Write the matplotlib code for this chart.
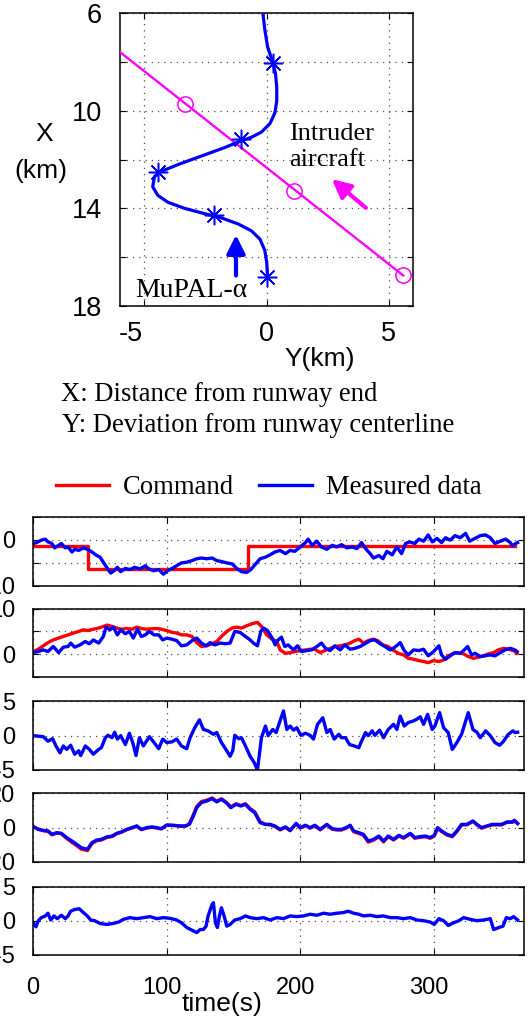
import numpy as np
import matplotlib
matplotlib.use("Agg")
import matplotlib.pyplot as plt
import matplotlib.transforms as mtrans
from matplotlib.lines import Line2D
from matplotlib.ticker import FixedLocator, NullFormatter

plt.rcParams["axes.unicode_minus"] = False

SANS = "Liberation Sans"
SERIF = "Liberation Serif"
W, H = 530, 1019

# ---- top plot: ground track (Y = lateral km, X = distance km) ----
own_y = [-0.14, -0.07, 0.04, 0.18, 0.27, 0.37, 0.42, 0.42, 0.34, 0.14, -0.21, -0.62,
         -1.03, -1.71, -2.67, -3.63, -4.32, -4.59, -4.66, -4.45, -4.04, -3.36, -2.53,
         -1.85, -1.16, -0.62, -0.27, -0.07, 0.01, 0.04]
own_x = [6.08, 6.67, 7.37, 7.79, 8.07, 8.49, 9.05, 9.61, 10.1, 10.53, 10.88, 11.09,
         11.23, 11.51, 11.86, 12.21, 12.49, 12.70, 13.12, 13.47, 13.75, 14.0, 14.22,
         14.39, 14.64, 14.92, 15.26, 15.72, 16.21, 16.8]
star_y = [0.27, -1.03, -4.45, -2.15, 0.04]
star_x = [8.03, 11.16, 12.5, 14.28, 16.8]
intr_y = [-6.0, 5.6]
intr_x = [7.6, 16.75]
circ_y = [-3.35, 1.14, 5.6]
circ_x = [9.72, 13.3, 16.75]
arrow_intr = [(4.07, 13.98), (2.68, 12.81)]   # (tail), (head)
arrow_own = [(-1.25, 16.75), (-1.25, 15.09)]

# ---- panel 1 ----
p1_cmd_t = [0, 41.3, 41.3, 160.8, 160.8, 361]
p1_cmd = [-1.25, -1.25, -6.25, -6.25, -1.25, -1.25]
p1_t = [0, 2.5, 6, 9, 11, 14, 16, 19, 21, 24, 26, 29, 31, 34, 37.5, 40.5, 44, 47.5, 50,
        52.5, 55.5, 58, 60.5, 63, 65.5, 69, 72.5, 76, 80, 84, 86, 90, 94, 97.5, 100.5,
        104, 107.5, 111, 115, 119, 122.5, 126, 130, 134, 137.5, 141, 145, 149, 152.5,
        156, 160, 163, 166, 170, 174, 177.5, 181, 185, 189, 192.5, 196, 200, 204, 206,
        209, 212.5, 216, 220, 224, 227.5, 231, 235, 239, 242.5, 246, 249, 252.5, 255,
        259, 262, 265, 269, 272.5, 276, 279, 282, 286, 289, 292.5, 296, 299, 302.5, 306,
        309, 312.5, 316, 320, 324, 327, 331, 335, 339, 342.5, 346, 350, 354, 357.5, 359,
        361.5, 363]
p1_meas = [-0.8, -0.6, -0.08, 0.15, -0.45, -0.8, -1.75, -1.2, -0.8, -1.75,
           -1.55, -2.65, -2.05, -2.3, -1.75, -2.05, -2.65, -3.4, -3.75, -4.85,
           -6.2, -7.2, -6.7, -5.95, -6.9, -6.2, -6.45, -5.95, -6.3, -5.6,
           -6.2, -6.7, -6.45, -7.45, -6.7, -6.2, -5.6, -5.0, -4.85, -4.5,
           -4.1, -3.95, -4.1, -3.95, -4.5, -4.7, -5.0, -5.2, -6.2, -6.9,
           -7.05, -6.45, -5.45, -4.1, -3.75, -3.25, -2.65, -2.3, -3.0, -2.3,
           -2.5, -1.55, -0.6, 0.15, -1.2, -0.3, -1.55, -2.05, -1.2, -1.55,
           -1.05, -1.75, -1.55, -1.9, -0.6, -1.9, -3.0, -3.95, -3.4, -4.1,
           -2.5, -3.25, -1.55, -3.0, -0.8, -0.45, -0.8, 0.15, -0.3, 1.05,
           -0.45, 0.3, -0.6, 0.45, -0.08, 0.9, 0.45, 1.4, -0.3, 0.3,
           0.9, 1.05, 0.45, -0.8, -0.3, 0.15, -0.6, -1.3, -0.8, -0.6]

# ---- panel 2 ----
p2_cmd_t = [0, 3.75, 7.5, 11, 15, 19, 22.5, 26, 30, 34, 37.5, 41, 45, 49, 52.5, 55.5, 59,
            62.5, 66, 70, 74, 77.5, 81, 85, 89, 92.5, 96, 100, 104, 107.5, 111, 115, 119,
            122.5, 126, 130, 134, 137.5, 141, 145, 149, 152.5, 156, 160, 164, 168, 171,
            175, 179, 182.5, 185, 189, 192.5, 196, 200, 204, 207.5, 211, 215, 218.5,
            222.5, 226, 230, 233.5, 237.5, 241, 244, 247.5, 251, 254.5, 258, 262, 266,
            269.5, 273.5, 277.5, 281, 285, 289, 292.5, 296, 300, 304, 307.5, 311, 315,
            318.5, 322.5, 326, 330, 333.5, 337.5, 341, 345, 348.5, 352.5, 356, 360, 362.5]
p2_cmd = [0.6, 1.1, 1.85, 2.55, 3.15, 3.55, 3.9, 4.25, 4.65, 5.0,
          5.35, 5.2, 5.5, 5.75, 6.1, 6.4, 6.1, 5.75, 5.5, 5.65,
          5.5, 5.95, 5.65, 5.5, 5.6, 5.65, 5.5, 5.2, 4.8, 4.65,
          4.25, 4.25, 3.9, 2.55, 1.7, 1.85, 2.3, 2.8, 3.9, 5.0,
          5.75, 5.95, 5.75, 6.25, 6.7, 7.0, 6.1, 4.25, 3.3, 2.8,
          0.95, 0.2, 0.35, 0.6, 0.8, 0.95, 1.1, 1.1, 0.35, 0.8,
          1.3, 1.7, 1.85, 2.05, 2.45, 3.0, 3.3, 2.45, 3.0, 3.3,
          3.0, 2.05, 1.7, 0.95, 0.2, -0.15, -0.9, -1.1, -1.4, -1.6,
          -1.85, -1.4, -1.6, -1.25, -0.35, 0.2, 0.35, 0.08, -0.5, -0.9,
          -0.65, -0.35, 0.08, 0.35, 0.95, 1.3, 1.1, 0.8, 0.2]
p2_t = [0, 3.75, 7.5, 11, 15, 19, 22.5, 26, 28, 31, 35, 39, 42, 45, 49, 52.5, 54.5, 57.5,
        60, 63, 65.5, 69, 72, 75, 78, 81, 84, 87, 90.5, 94, 97, 100, 104, 107.5, 111, 115,
        119, 122.5, 126, 129.5, 132.5, 136, 140, 144, 147.5, 151, 155, 159, 162.5, 165,
        168, 170.5, 172.5, 175.5, 179, 181.3, 183, 186, 188.5, 191, 195, 198, 201, 205,
        208.5, 212.5, 216, 219, 222.5, 226, 230, 233.5, 237.5, 241, 245, 248.5, 252.5,
        256, 260, 263.5, 267.5, 271, 275, 278, 281, 285, 289, 292.5, 296, 300, 304, 306,
        309, 312.5, 316, 320, 322.5, 325.5, 328.5, 331, 335, 338.5, 342.5, 346, 350,
        353.5, 357.5, 361, 362.5]
p2_meas = [0.35, 0.6, 0.95, 0.6, 1.7, 0.35, 1.55, 1.7, 2.45, 1.55,
           2.05, 2.8, 2.3, 3.15, 2.45, 3.9, 5.95, 5.35, 5.95, 4.25,
           5.35, 4.5, 5.0, 3.55, 5.5, 3.9, 4.25, 5.0, 4.25, 4.25,
           3.15, 3.55, 3.3, 3.0, 1.85, 2.05, 3.0, 3.55, 2.45, 1.85,
           2.55, 2.05, 2.45, 2.3, 2.45, 5.0, 4.8, 3.9, 3.15, 2.45,
           1.85, 5.0, 5.75, 5.2, 3.55, 2.05, 3.0, 3.75, 1.7, 2.05,
           0.95, 1.85, 0.6, 0.8, 0.95, 1.7, 2.45, 1.3, 0.8, 1.85,
           0.95, 2.05, 1.1, 1.3, 1.7, 2.3, 3.0, 3.15, 2.3, 1.7,
           0.95, 1.55, 2.55, 0.8, -0.15, 0.95, 0.8, 1.1, -0.35, 0.6,
           1.85, -0.15, -1.1, -0.35, 0.35, 0.2, 0.8, 1.7, -0.15, 0.2,
           -0.5, -0.35, -0.15, -0.35, 0.35, 0.95, 1.3, 0.95, 0.6]

# ---- panel 3 ----
p3_t = [0, 7.5, 11, 14.5, 17, 20, 22.5, 25, 28, 31, 34, 35.5, 39, 42, 45, 49, 51, 54, 56,
        59, 61, 63, 65.5, 69, 72, 74.5, 77, 79.5, 82.5, 87, 90.5, 94, 97, 100, 104, 107.5,
        111, 115, 117.5, 121, 124.5, 127.5, 131, 135, 137.5, 141, 145, 147.5, 149.5, 151,
        154, 156, 159, 162.5, 165.5, 168, 171, 174, 176, 179.5, 182, 184.5, 187.5, 190,
        192.5, 195, 197.5, 200.5, 204, 207.5, 210, 213, 217, 220, 222.5, 225.5, 229, 231,
        234, 237, 240.5, 244, 246, 249, 251, 254, 256, 259.5, 262.5, 266, 270, 272.5, 275,
        278, 281, 285, 287.5, 290, 292.5, 295.5, 299, 301, 304.5, 307.5, 311, 314, 317.5,
        321, 326, 329.5, 332.5, 335, 339, 342.5, 346, 349.5, 352.5, 356, 359.5, 361, 363]
p3_meas = [0.0, -0.15, -0.8, -0.45, -1.5, -2.5, -1.5, -2.0, -1.4, -2.7, -2.2, -2.9, -1.5,
           -2.0, -2.7, -2.0, -1.75, -0.3, 0.05, -0.3, 0.5, -0.5, 0.0, -1.3, 0.35, -1.0,
           -2.9, -0.3, -1.5, -0.15, -1.0, -1.9, -0.5, -1.0, -0.9, -0.5, -1.5, -1.9, -0.3,
           1.15, 2.3, 0.9, 0.7, 0.2, 0.45, -1.0, -2.2, -3.0, -2.2, 0.05, -0.45, -0.3, -1.5,
           -3.0, -3.9, -5.0, -0.3, 1.4, 0.0, 0.9, 0.45, 1.9, 3.6, 0.9, 1.4, 0.8, 1.15,
           0.05, 0.35, 0.05, -0.5, 1.65, 2.6, 0.45, 0.9, -0.5, 0.2, -0.3, -0.3, -1.3, -1.5,
           -1.75, -0.8, 0.45, 0.0, 0.7, 0.05, 0.8, -0.3, 0.9, 1.65, 0.9, 2.85, 1.4, 1.9,
           2.15, 2.4, 2.75, 1.65, 3.1, 0.9, 1.4, 3.35, 1.15, 0.45, -2.0, -1.0, 0.2, 3.35,
           0.9, 0.5, -0.3, 0.7, 0.0, -1.0, -1.4, -0.8, 0.2, 0.7, 0.45, 0.5]

# ---- panel 4 ----
p4_t = [0, 3.75, 7.5, 11, 14, 17.5, 21, 25, 29, 32.5, 36, 40.5, 44, 47.5, 51, 55, 59,
        62.5, 66, 70, 74, 77.5, 81, 85, 89, 92.5, 96, 100, 105, 110, 114, 117, 120, 122.5,
        126, 130, 134, 137.5, 141, 145, 148, 152, 155.5, 159, 162.5, 166, 170, 174, 177.5,
        181, 185, 189, 192.5, 197, 200, 204, 207.5, 211, 215, 220, 224, 227.5, 231, 234.5,
        237.5, 240, 244, 247.5, 251, 255, 259, 262.5, 266, 270, 274, 277.5, 282.5, 286,
        290, 294, 297.5, 300.5, 303, 306, 310, 314, 317.5, 321, 325, 329.5, 332.5, 336,
        340, 344, 347.5, 351, 355, 359, 360.5, 363]
p4_meas = [0.6, -1.0, -1.6, -1.9, -3.9, -2.9, -3.3, -5.8, -7.8, -9.7, -11.7, -12.6, -8.7,
           -7.2, -6.8, -5.4, -4.9, -3.3, -2.5, -1.0, 0.0, 1.0, -1.0, 0.0, 0.4, 0.0, -0.6,
           1.55, 1.4, 1.0, 1.0, 1.9, 6.8, 11.65, 14.6, 15.5, 16.9, 15.0, 16.5, 14.2, 11.65,
           13.6, 12.6, 13.6, 10.7, 8.7, 2.9, 1.9, 1.9, 1.0, -1.0, 0.4, -1.55, 2.5, 0.0,
           1.4, 0.0, 1.4, -1.0, 1.9, -0.6, -1.0, -1.0, 0.0, 1.4, -1.9, -2.9, -3.9, -7.8,
           -6.8, -4.9, -7.8, -4.9, -6.8, -4.5, -5.8, -3.3, -5.8, -5.2, -4.9, -5.8, -4.5,
           0.0, -1.9, -3.9, -4.9, -1.9, 1.9, 1.9, 3.9, 1.9, 0.0, 1.0, 1.9, 1.9, 1.9, 3.3,
           3.3, 4.3, 2.5]
p4_cmd = [0.6, -0.8, -1.8, -2.2, -4.2, -3.2, -3.5, -6.3, -8.6, -10.5, -12.5, -13.4, -9.3,
          -7.6, -7.2, -5.8, -5.2, -3.6, -2.7, -1.2, -0.2, 0.8, -1.2, -0.2, 0.2, -0.2, -0.8,
          1.4, 1.2, 0.8, 0.8, 2.4, 7.6, 12.4, 15.2, 16.0, 17.3, 15.4, 16.8, 14.6, 12.1,
          13.9, 12.9, 13.9, 11.1, 9.2, 3.4, 1.9, 1.6, 0.7, -1.3, 0.2, -1.8, 2.2, -0.3, 1.1,
          -0.3, 1.1, -1.3, 1.6, -0.9, -1.4, -1.4, -0.3, 1.1, -2.3, -3.4, -4.5, -8.4, -7.3,
          -5.3, -8.3, -5.3, -7.2, -4.9, -6.2, -3.7, -6.2, -5.6, -5.3, -6.2, -4.9, -0.5,
          -2.3, -4.3, -5.3, -2.3, 1.6, 1.6, 3.6, 1.6, -0.3, 0.8, 1.6, 1.6, 1.6, 3.1, 3.1,
          4.0, 2.3]

# ---- panel 5 ----
p5_t = [0, 2, 3.75, 6, 9, 11, 13, 15.5, 18, 21, 24, 26, 28, 31, 34.5, 37.5, 40.5, 43, 46,
        50, 55, 60, 64, 67.5, 72.5, 77.5, 82.5, 87.5, 92.5, 97.5, 102.5, 107.5, 111, 115,
        119, 122.5, 125, 127.5, 129.5, 131, 134, 135, 136.5, 138, 139.5, 141, 143, 145,
        147.5, 151, 155, 159, 162.5, 167.5, 172.5, 177.5, 182.5, 187.5, 192.5, 197.5,
        202.5, 207.5, 212.5, 217.5, 222.5, 227.5, 232.5, 236, 240, 244, 247.5, 252.5,
        257.5, 262.5, 267.5, 272.5, 277.5, 282.5, 287.5, 292.5, 297.5, 300.5, 304, 307.5,
        311, 315, 319, 322.5, 327.5, 332.5, 337.5, 342.5, 345, 349, 352, 354.5, 357.5,
        360, 363]
p5_meas = [-0.3, -0.9, 0.0, 0.45, 0.7, 1.1, 0.1, 0.7, 0.3, 0.8, 0.3, 0.7, 1.4, 1.65, 1.75,
           1.2, 0.7, 0.1, 0.0, -0.4, -0.55, -0.4, -0.2, 0.2, 0.45, 0.3, 0.45, 0.6, 0.3,
           0.45, 0.35, 0.1, -0.3, -1.0, -1.4, -1.75, -1.3, -1.3, -0.8, 0.7, 2.4, 2.65,
           -0.3, -1.0, 0.7, 1.9, 0.7, -0.8, -0.55, 0.1, 0.3, 0.7, 0.45, 0.3, 0.45, 0.1,
           0.45, 0.3, 0.7, 0.6, 0.7, 0.95, 0.8, 1.1, 0.95, 1.1, 1.2, 1.4, 1.1, 0.95, 0.7,
           0.8, 0.6, 0.7, 0.45, 0.45, 0.3, 0.45, 0.1, 0.0, -0.2, -0.55, 0.3, 0.0, -0.7,
           -0.3, 0.0, 0.45, 0.2, 0.0, 0.1, 0.3, -1.3, -1.0, -0.8, 0.45, 0.3, 0.6, 0.1]

# y-axis setup per panel: limits, labelled ticks, extra grid ticks
panel_ylim = [(-10, 5), (-5, 10), (-5, 5), (-20, 20), (-5, 5)]
panel_major = [[-10, 0], [0, 10], [-5, 0, 5], [-20, 0, 20], [-5, 0, 5]]
panel_minor = [[-5, 5], [-5, 5], [], [], []]
time_ticks = [0, 100, 200, 300]

RED, BLUE, MAG = "#ff0000", "#0000ff", "#ff00ff"
GRID = dict(color="0.3", linestyle=(0, (1, 4)), linewidth=0.9)


def fig_rect(x0, y0, x1, y1):
    return [x0 / W, 1 - y1 / H, (x1 - x0) / W, (y1 - y0) / H]


def style_box(ax, size):
    for s in ax.spines.values():
        s.set_linewidth(1.1)
    ax.tick_params(which="both", direction="in", top=True, right=True,
                   length=4, width=0.8, labelsize=size)
    for lab in ax.get_xticklabels() + ax.get_yticklabels():
        lab.set_fontfamily(SANS)


def shift_px(lab, dx):
    lab.set_transform(lab.get_transform() +
                      mtrans.ScaledTranslation(dx / 100, 0, fig.dpi_scale_trans))


fig = plt.figure(figsize=(W / 100, H / 100), dpi=100)

# ---------------- top: flight track ----------------
ax = fig.add_axes(fig_rect(120, 13, 413, 306))
ax.plot(intr_y, intr_x, color=MAG, lw=1.7, zorder=3)
ax.plot(circ_y, circ_x, ls="none", marker="o", ms=11, mfc="none", mec=MAG, mew=1.1, zorder=4)
ax.plot(own_y, own_x, color=BLUE, lw=2.3, zorder=5)
ax.plot(star_y, star_x, ls="none", marker=(8, 2, 0), ms=14, mec=BLUE, mew=1.1, zorder=6)
for (t0, t1), col in [(arrow_intr, MAG), (arrow_own, BLUE)]:
    ax.annotate("", xy=t1, xytext=t0,
                arrowprops=dict(arrowstyle="-|>,head_length=1.1,head_width=0.55",
                                color=col, lw=3.0, shrinkA=0, shrinkB=0), zorder=6)
ax.text(0.94, 11.21, "Intruder", family=SERIF, fontsize=19, va="baseline")
ax.text(0.94, 12.25, "aircraft", family=SERIF, fontsize=19, va="baseline")
ax.text(-5.37, 17.65, "MuPAL-\u03b1", family=SERIF, fontsize=20, va="baseline")
ax.set_xlim(-6, 6)
ax.set_ylim(18, 6)
ax.xaxis.set_major_locator(FixedLocator([-5, 0, 5]))
ax.yaxis.set_major_locator(FixedLocator([6, 10, 14, 18]))
ax.yaxis.set_minor_locator(FixedLocator([8, 12, 16]))
ax.yaxis.set_minor_formatter(NullFormatter())
ax.grid(True, which="both", **GRID)
style_box(ax, 19.5)
ax.tick_params(axis="y", pad=13)
ax.tick_params(axis="x", pad=11)
for lab in ax.get_xticklabels():
    if lab.get_text().startswith("-"):
        shift_px(lab, -14)

fig.text(44 / W, 1 - 134 / H, "X", family=SANS, fontsize=19, ha="center", va="center")
fig.text(41 / W, 1 - 171 / H, "(km)", family=SANS, fontsize=19, ha="center", va="center")
fig.text(320 / W, 1 - 359 / H, "Y(km)", family=SANS, fontsize=19, ha="center", va="center")
fig.text(61 / W, 1 - 401 / H, "X: Distance from runway end", family=SERIF,
         fontsize=19.2, va="baseline")
fig.text(62.5 / W, 1 - 432 / H, "Y: Deviation from runway centerline", family=SERIF,
         fontsize=19.2, va="baseline")

# ---------------- bottom: time histories ----------------
panel_top = [516.7, 608.7, 701.3, 793.3, 886.7]
panel_bot = [586.0, 677.0, 770.0, 862.0, 954.7]
series = [
    [(p1_cmd_t, p1_cmd, RED), (p1_t, p1_meas, BLUE)],
    [(p2_cmd_t, p2_cmd, RED), (p2_t, p2_meas, BLUE)],
    [(p3_t, p3_meas, BLUE)],
    [(p4_t, p4_cmd, RED), (p4_t, p4_meas, BLUE)],
    [(p5_t, p5_meas, BLUE)],
]
for i in range(5):
    a = fig.add_axes(fig_rect(33.3, panel_top[i], 524.3, panel_bot[i]))
    for t, v, col in series[i]:
        a.plot(t, v, color=col, lw=2.4)
    a.set_xlim(0, 368)
    a.set_ylim(*panel_ylim[i])
    a.xaxis.set_major_locator(FixedLocator(time_ticks))
    a.yaxis.set_major_locator(FixedLocator(panel_major[i]))
    if panel_minor[i]:
        a.yaxis.set_minor_locator(FixedLocator(panel_minor[i]))
        a.yaxis.set_minor_formatter(NullFormatter())
    a.grid(True, which="both", **GRID)
    style_box(a, 17)
    a.tick_params(axis="y", pad=13)
    if i < 4:
        a.tick_params(axis="x", labelbottom=False)
    else:
        a.tick_params(axis="x", pad=16)
        for lab in a.get_xticklabels():
            shift_px(lab, -1 if lab.get_text() == "0" else -5)

fig.text(222 / W, 1 - 1004 / H, "time(s)", family=SANS, fontsize=19, ha="center",
         va="center")

handles = [Line2D([], [], color=RED, lw=2.4), Line2D([], [], color=BLUE, lw=2.4)]
fig.legend(handles, ["Command", "Measured data"], loc="center left",
           bbox_to_anchor=(56 / W, 1 - 488 / H), ncol=2, frameon=False,
           prop=dict(family=SERIF, size=19.2), handlelength=2.0, handletextpad=0.5,
           columnspacing=0.95, borderpad=0, borderaxespad=0)

fig.savefig("out.png", dpi=100)
